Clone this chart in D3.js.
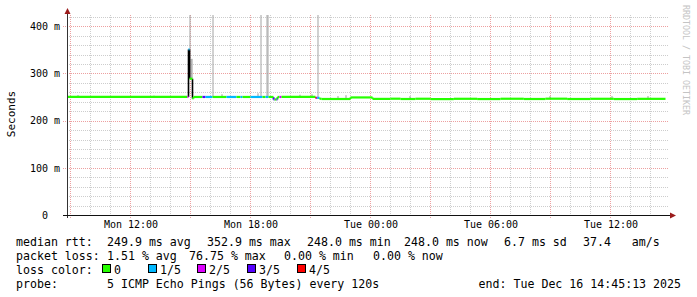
<!DOCTYPE html>
<html>
<head>
<meta charset="utf-8">
<script src="https://cdn.jsdelivr.net/npm/d3@7"></script>
<style>
  body { margin: 0; background: #fff; }
  svg { display: block; }
  text { font-family: "DejaVu Sans Mono", monospace; white-space: pre; }
</style>
</head>
<body>
<div id="chart"></div>
<script>
// median rtt, as step segments: each one lasts until the next start time
const segTimes = [
  "12-15 08:45", "12-15 14:51", "12-15 14:54", "12-15 14:57", "12-15 15:06", "12-15 15:09",
  "12-15 15:36", "12-15 15:45", "12-15 16:06", "12-15 16:48", "12-15 17:18", "12-15 17:30",
  "12-15 17:36", "12-15 18:00", "12-15 18:36", "12-15 18:45", "12-15 18:54", "12-15 19:09",
  "12-15 19:12", "12-15 19:18", "12-15 19:21", "12-15 19:27", "12-15 19:33", "12-15 21:15",
  "12-15 21:18", "12-15 21:21", "12-15 21:27", "12-15 21:33", "12-15 23:00", "12-16 00:06",
  "12-16 01:00", "12-16 01:30", "12-16 02:15", "12-16 03:00", "12-16 04:10", "12-16 05:20",
  "12-16 06:30", "12-16 07:40", "12-16 08:45", "12-16 09:50", "12-16 11:00", "12-16 12:10",
  "12-16 13:20"
];
const segMedian = [
  251.3, 251.3, 352, 290, 248, 251.3,
  251.3, 251.3, 251.3, 251.3, 251.3, 251.3,
  251.3, 251.3, 251.3, 251.3, 251.3, 246,
  246, 246, 251.3, 251.3, 251.3, 249.5,
  249.5, 249.5, 247.5, 247.0, 250.3, 247.2,
  247.6, 247.0, 247.5, 246.8, 247.4, 246.9,
  247.5, 247.0, 247.6, 247.0, 247.4, 246.9,
  247.3
];
// lost pings out of 5 in each segment
const segLoss = [
  0, 2, 1, 0, 0, 0,
  3, 1, 0, 1, 0, 1,
  0, 1, 0, 1, 0, 3,
  0, 3, 0, 2, 0, 4,
  3, 1, 0, 0, 0, 0,
  0, 0, 0, 0, 0, 0,
  0, 0, 0, 0, 0, 0,
  0
];
const lastTime = "12-16 14:45";

// smoke: spread of the pings in single 3 minute bins
const smokeTimes = [
  "12-15 09:21", "12-15 13:09", "12-15 14:57", "12-15 15:00", "12-15 15:03", "12-15 14:57",
  "12-15 16:06", "12-15 16:33", "12-15 18:21", "12-15 18:30", "12-15 18:48", "12-15 18:51",
  "12-15 20:27", "12-15 21:03", "12-15 21:21", "12-15 22:21", "12-15 22:45", "12-16 01:57",
  "12-16 08:57", "12-16 12:03", "12-16 13:51"
];
const smokeLow = [
  251.3, 251.3, 290, 290, 290, 290,
  251.3, 251.3, 251.3, 251.3, 251.3, 251.3,
  251.3, 251.3, 249.5, 247.0, 247.0, 247.2,
  247.2, 247.2, 247.2
];
const smokeHigh = [
  254, 253, 331, 331, 331, 500,
  500, 256, 258, 500, 500, 500,
  255, 256, 500, 252, 254, 252,
  252, 252, 252
];

const lossLabels = ["0", "1/5", "2/5", "3/5", "4/5"];
const lossColors = ["#26ff00", "#00b8ff", "#dd00ff", "#5500ff", "#ff0000"];

const yTicks = [0, 100, 200, 300, 400];
const xLabelTimes = ["12-15 12:00", "12-15 18:00", "12-16 00:00", "12-16 06:00", "12-16 12:00"];

const legendRtt = ["median rtt:", "249.9 ms avg", "352.9 ms max", "248.0 ms min", "248.0 ms now", "6.7 ms sd", "37.4   am/s"];
const legendLoss = ["packet loss:", "1.51 % avg", "76.75 % max", "0.00 % min", "0.00 % now"];
const probeText = "5 ICMP Echo Pings (56 Bytes) every 120s";
const endText = "end: Tue Dec 16 14:45:13 2025";

const w = 697;
const h = 297;
const pLeft = 67, pRight = 667, pTop = 15, pBottom = 215;
const parse = (s) => d3.timeParse("%Y-%m-%d %H:%M")("2025-" + s);

const svg = d3.select("#chart").append("svg").attr("width", w).attr("height", h);

const xScale = d3.scaleTime()
  .domain([new Date(2025, 11, 15, 8, 49, 30), new Date(2025, 11, 16, 14, 49, 30)])
  .range([pLeft, pRight]);
const yScale = d3.scaleLinear().domain([0, 424]).range([pBottom, pTop]);

// grid
const grid = svg.append("g").attr("shape-rendering", "crispEdges");
const minorY = d3.range(20, 424, 20).filter((v) => v % 100 !== 0);
grid.selectAll(".hmin").data(minorY).enter().append("line")
  .attr("x1", pLeft).attr("x2", pRight + 1)
  .attr("y1", (d) => Math.round(yScale(d)) + 0.5).attr("y2", (d) => Math.round(yScale(d)) + 0.5)
  .attr("stroke", "#cdcdcd").attr("stroke-dasharray", "1,1");
const hours = d3.timeHour.range(xScale.domain()[0], xScale.domain()[1]);
grid.selectAll(".vmin").data(hours.filter((d) => d.getHours() % 3 !== 0)).enter().append("line")
  .attr("x1", (d) => Math.floor(xScale(d)) + 0.5).attr("x2", (d) => Math.floor(xScale(d)) + 0.5)
  .attr("y1", pTop).attr("y2", pBottom + 2)
  .attr("stroke", "#cdcdcd").attr("stroke-dasharray", "1,1");
grid.selectAll(".hmaj").data(yTicks.filter((d) => d > 0)).enter().append("line")
  .attr("x1", pLeft - 4).attr("x2", pRight + 1)
  .attr("y1", (d) => Math.round(yScale(d)) + 0.5).attr("y2", (d) => Math.round(yScale(d)) + 0.5)
  .attr("stroke", "#eda0a0").attr("stroke-dasharray", "1,1");
grid.selectAll(".vmaj").data(hours.filter((d) => d.getHours() % 3 === 0)).enter().append("line")
  .attr("x1", (d) => Math.floor(xScale(d)) + 0.5).attr("x2", (d) => Math.floor(xScale(d)) + 0.5)
  .attr("y1", pTop).attr("y2", pBottom + 3)
  .attr("stroke", "#eda0a0").attr("stroke-dasharray", "1,1");

// plot marks
svg.append("clipPath").attr("id", "plot")
  .append("rect").attr("x", pLeft).attr("y", pTop).attr("width", pRight - pLeft).attr("height", pBottom - pTop);
const plot = svg.append("g").attr("clip-path", "url(#plot)");

const binMs = 3 * 60 * 1000;
plot.selectAll(".smoke").data(smokeTimes).enter().append("rect")
  .attr("x", (d) => xScale(parse(d)))
  .attr("width", (d) => xScale(new Date(+parse(d) + binMs)) - xScale(parse(d)))
  .attr("y", (d, i) => yScale(smokeHigh[i]))
  .attr("height", (d, i) => yScale(smokeLow[i]) - yScale(smokeHigh[i]))
  .attr("fill", (d, i) => (smokeHigh[i] > 450 ? "#a4a4a4" : "#999999"));

const segs = segTimes.map((t, i) => ({
  t0: parse(t),
  t1: parse(i < segTimes.length - 1 ? segTimes[i + 1] : lastTime),
  v: segMedian[i],
  prev: i > 0 ? segMedian[i - 1] : segMedian[i],
  loss: segLoss[i],
}));

// vertical steps: black for the big jumps, loss colour for the small ones
plot.selectAll(".step").data(segs.filter((d) => d.prev !== d.v)).enter().append("line")
  .attr("x1", (d) => xScale(d.t0)).attr("x2", (d) => xScale(d.t0))
  .attr("y1", (d) => yScale(d.prev) + 0.5).attr("y2", (d) => yScale(d.v) + 0.5)
  .attr("stroke", (d) => (Math.abs(d.v - d.prev) > 20 ? "#000" : lossColors[d.loss]))
  .attr("stroke-width", (d) => (Math.abs(d.v - d.prev) > 20 ? 1.6 : 2));

plot.selectAll(".seg").data(segs).enter().append("line")
  .attr("x1", (d) => xScale(d.t0)).attr("x2", (d) => xScale(d.t1))
  .attr("y1", (d) => yScale(d.v) + 0.5).attr("y2", (d) => yScale(d.v) + 0.5)
  .attr("stroke", (d) => lossColors[d.loss]).attr("stroke-width", 2.2);

// axes
const yAxis = d3.axisLeft(yScale).tickValues(yTicks).tickSize(0).tickPadding(7)
  .tickFormat((d) => (d === 0 ? "0\u00a0\u00a0" : d + " m"));
const gy = svg.append("g").attr("transform", "translate(" + pLeft + ",0)").call(yAxis);
gy.select(".domain").remove();
gy.selectAll("text").attr("font-family", "DejaVu Sans Mono").attr("font-size", 10).attr("fill", "#000");

const xAxis = d3.axisBottom(xScale).tickValues(xLabelTimes.map(parse)).tickSize(0).tickPadding(6)
  .tickFormat(d3.timeFormat("%a %H:%M"));
const gx = svg.append("g").attr("transform", "translate(0," + pBottom + ")").call(xAxis);
gx.select(".domain").remove();
gx.selectAll("text").attr("font-family", "DejaVu Sans Mono").attr("font-size", 10).attr("fill", "#000");

svg.append("line").attr("x1", pLeft + 0.5).attr("x2", pLeft + 0.5).attr("y1", pBottom + 3).attr("y2", 12)
  .attr("stroke", "#333").attr("shape-rendering", "crispEdges");
svg.append("line").attr("x1", pLeft - 4).attr("x2", pRight + 4).attr("y1", pBottom + 0.5).attr("y2", pBottom + 0.5)
  .attr("stroke", "#111").attr("shape-rendering", "crispEdges");
svg.append("path").attr("d", "M64.5,14 L67.5,8 L70.5,14 Z").attr("fill", "#9b1c1c");
svg.append("path").attr("d", "M670,212.5 L676,215.5 L670,218.5 Z").attr("fill", "#9b1c1c");

svg.append("text").attr("transform", "translate(15,114) rotate(-90)")
  .attr("text-anchor", "middle").attr("font-size", 11).attr("fill", "#000").text("Seconds");
svg.append("text").attr("transform", "translate(683,5) rotate(90)")
  .attr("font-size", 8.3).attr("fill", "#c4c4c4").text("RRDTOOL / TOBI OETIKER");

// legend
const legend = svg.append("g").attr("font-size", 11.6).attr("fill", "#000");
const rttX = [16, 107, 207, 307, 404, 504, 583];
legend.selectAll(".rtt").data(legendRtt).enter().append("text")
  .attr("x", (d, i) => rttX[i]).attr("y", 246).text((d) => d);
const lossX = [16, 107, 189, 284, 373];
legend.selectAll(".pl").data(legendLoss).enter().append("text")
  .attr("x", (d, i) => lossX[i]).attr("y", 260).text((d) => d);
legend.append("text").attr("x", 16).attr("y", 274).text("loss color:");
const boxX = [102, 148, 197, 247, 297];
legend.selectAll(".box").data(lossColors).enter().append("rect")
  .attr("x", (d, i) => boxX[i] + 0.5).attr("y", 264.5).attr("width", 8).attr("height", 8)
  .attr("fill", (d) => d).attr("stroke", "#000").attr("stroke-width", 1);
legend.selectAll(".lbl").data(lossLabels).enter().append("text")
  .attr("x", (d, i) => boxX[i] + 12).attr("y", 274).text((d) => d);
legend.append("text").attr("x", 16).attr("y", 288).text("probe:");
legend.append("text").attr("x", 107).attr("y", 288).text(probeText);
legend.append("text").attr("x", 681).attr("y", 288).attr("text-anchor", "end").text(endText);
</script>
</body>
</html>
